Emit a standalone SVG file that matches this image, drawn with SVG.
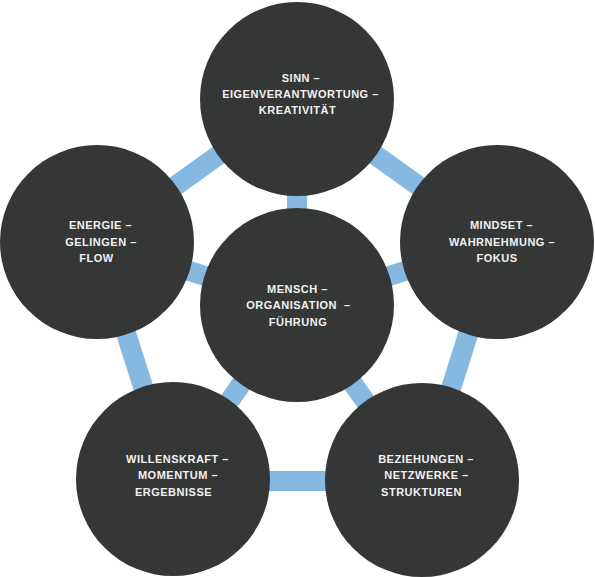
<svg xmlns="http://www.w3.org/2000/svg" width="595" height="577" viewBox="0 0 595 577">
<style>
.c{fill:#353636}
.l{stroke:#85b9e1;stroke-width:20;fill:none}
text{font-family:"Liberation Sans",Arial,sans-serif;font-weight:bold;font-size:11px;letter-spacing:0.5px;fill:#f2f2f2;text-anchor:middle}
</style>
<rect width="595" height="577" fill="#ffffff"/>
<g id="connectors">
<path class="l" d="M297,99 L497,242 L422,481 L173,481 L97,242 Z"/>
<path class="l" d="M297,305 L297,99 M297,305 L497,242 M297,305 L422,481 M297,305 L173,481 M297,305 L97,242"/>
</g>
<g id="n-top">
<circle class="c" cx="297" cy="99" r="97"/>
<text x="301" y="82">SINN –</text>
<text x="300.5" y="98">EIGENVERANTWORTUNG –</text>
<text x="297.5" y="114">KREATIVITÄT</text>
</g>
<g id="n-left">
<circle class="c" cx="97" cy="242" r="97"/>
<text x="100.5" y="229">ENERGIE –</text>
<text x="101" y="246">GELINGEN –</text>
<text x="96.5" y="262">FLOW</text>
</g>
<g id="n-right">
<circle class="c" cx="497" cy="242" r="97"/>
<text x="501.5" y="229">MINDSET –</text>
<text x="502" y="246">WAHRNEHMUNG –</text>
<text x="497" y="262">FOKUS</text>
</g>
<g id="n-center">
<circle class="c" cx="297" cy="305" r="97"/>
<text x="297.5" y="293">MENSCH –</text>
<text x="298.5" y="309" xml:space="preserve">ORGANISATION  –</text>
<text x="298" y="326">FÜHRUNG</text>
</g>
<g id="n-bottomleft">
<circle class="c" cx="173" cy="479" r="97"/>
<text x="177.5" y="463">WILLENSKRAFT –</text>
<text x="178" y="479">MOMENTUM –</text>
<text x="173.5" y="496">ERGEBNISSE</text>
</g>
<g id="n-bottomright">
<circle class="c" cx="422" cy="480" r="97"/>
<text x="426" y="463">BEZIEHUNGEN –</text>
<text x="426.5" y="479">NETZWERKE –</text>
<text x="421.5" y="496">STRUKTUREN</text>
</g>
</svg>
